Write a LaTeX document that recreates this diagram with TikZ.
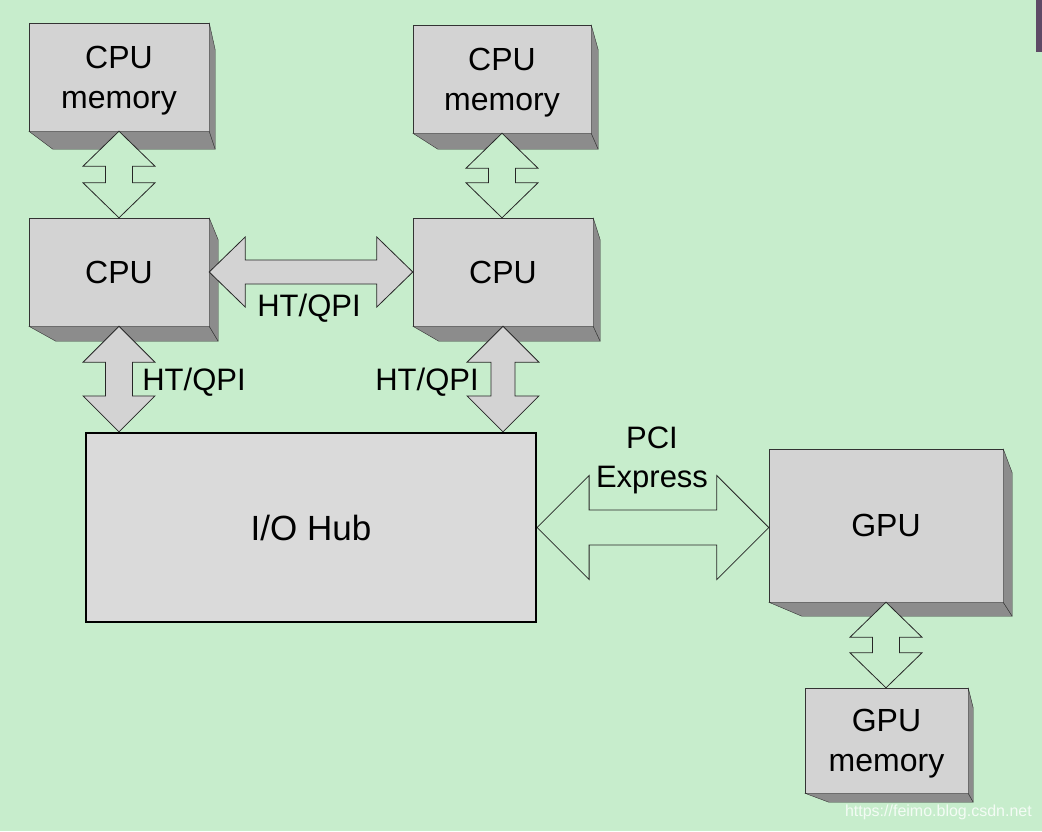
\documentclass[tikz,border=0pt]{standalone}
\usepackage{fontspec}
\setmainfont{Liberation Sans}
\usetikzlibrary{calc}
\definecolor{bggreen}{RGB}{199,237,204}
\definecolor{boxface}{RGB}{211,211,211}
\definecolor{boxside}{RGB}{140,140,140}
\definecolor{hubface}{RGB}{218,218,218}
\definecolor{stripcol}{RGB}{94,74,102}
\tikzset{
  box/.style={draw=black!80, fill=boxface, minimum width=180pt, minimum height=108pt,
    inner sep=0pt, align=center, font=\fontsize{32}{40}\selectfont},
  membox/.style={box, text depth=0pt},
  side/.style={draw=black!80, fill=boxside, line join=round},
  link/.style={draw=black!85, fill=bggreen, line width=0.8pt},
  bus/.style={link, fill=boxface},
  lbl/.style={font=\fontsize{31}{39}\selectfont, align=center, inner sep=0pt},
}
% vertical double block arrow: style, top tip, bottom tip, head half, shaft half, head length
\newcommand{\vlink}[6]{%
  \path[#1] let \p1=(#2), \p2=(#3) in (\p1) -- (\x1+#4,\y1-#6) -- (\x1+#5,\y1-#6)
    -- (\x1+#5,\y2+#6) -- (\x1+#4,\y2+#6) -- (\x1,\y2) -- (\x1-#4,\y2+#6)
    -- (\x1-#5,\y2+#6) -- (\x1-#5,\y1-#6) -- (\x1-#4,\y1-#6) -- cycle;}
% horizontal double block arrow: style, left tip, right tip, head half, shaft half, head length
\newcommand{\hlink}[6]{%
  \path[#1] let \p1=(#2), \p2=(#3) in (\p1) -- (\x1+#6,\y1+#4) -- (\x1+#6,\y1+#5)
    -- (\x2-#6,\y1+#5) -- (\x2-#6,\y1+#4) -- (\x2,\y1) -- (\x2-#6,\y1-#4)
    -- (\x2-#6,\y1-#5) -- (\x1+#6,\y1-#5) -- (\x1+#6,\y1-#4) -- cycle;}
\begin{document}
\begin{tikzpicture}[x=1pt,y=-1pt]
\fill[bggreen] (0,0) rectangle (1042,831);
\useasboundingbox (0,0) rectangle (1042,831);
\fill[stripcol] (1036,0) rectangle (1042,52);

\node[membox] (cmemL) at (119,77) {CPU\\memory};
\node[membox, minimum width=178pt] (cmemR) at (502,79) {CPU\\memory};
\node[box] (cpuL) at (119,272) {CPU};
\node[box] (cpuR) at (503,272) {CPU};
\node[draw=black, line width=2.2pt, fill=hubface, minimum width=450pt, minimum height=189pt,
  font=\fontsize{35}{40}\selectfont] (io) at (311,527.5) {I/O Hub};
\node[box, minimum width=234pt, minimum height=153pt] (gpu) at (886,525.5) {GPU};
\node[membox, minimum width=163pt, minimum height=105pt] (gmem) at (886.5,740.5) {GPU\\memory};

% shadow faces
\foreach \n/\dx/\dy/\bl/\rt in {cmemL/6/18/24/27, cmemR/7/16/25/25, cpuL/9/15/27/22,
    cpuR/7/15/26/22, gpu/9/14/33/24, gmem/5/9/24/20} {
  \path[side] (\n.south west) -- ++(\bl,\dy) -- ($(\n.south east)+(\dx,\dy)$) -- (\n.south east) -- cycle;
  \path[side] (\n.north east) -- ++(\dx,\rt) -- ($(\n.south east)+(\dx,\dy)$) -- (\n.south east) -- cycle;
}

\vlink{link}{cmemL.south}{cpuL.north}{36pt}{13.5pt}{35pt}
\vlink{link}{cmemR.south}{cpuR.north}{36pt}{13.5pt}{35pt}
\vlink{bus}{cpuL.south}{cpuL.south |- io.north}{36pt}{13.5pt}{36pt}
\vlink{bus}{cpuR.south}{cpuR.south |- io.north}{36pt}{12pt}{36pt}
\hlink{bus}{cpuL.east}{cpuR.west}{35pt}{12pt}{36pt}
\hlink{link}{io.east}{gpu.west}{52pt}{17.5pt}{52pt}
\vlink{link}{gpu.south}{gmem.north}{36pt}{13.5pt}{35pt}

\node[lbl] (htqpi) at (309,308) {HT/QPI};
\node[lbl] (htqpiL) at (194,382) {HT/QPI};
\node[lbl] (htqpiR) at (427,382) {HT/QPI};
\node[lbl] (pcie) at (652,460) {PCI\\Express};

\node[font=\fontsize{16}{18}\selectfont, text=white, opacity=0.8, anchor=east, inner sep=0pt]
  (mark) at (1032,812) {https://feimo.blog.csdn.net};
\end{tikzpicture}
\end{document}
